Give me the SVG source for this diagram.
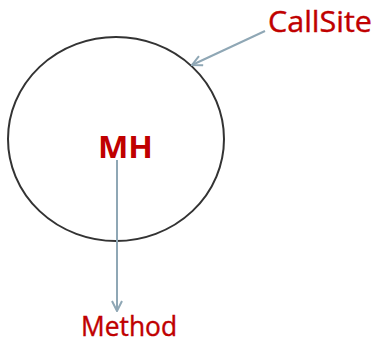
<svg xmlns="http://www.w3.org/2000/svg" width="374" height="343" viewBox="0 0 374 343">
  <style>
    .lbl { font-family: "Open Sans", "Liberation Sans", sans-serif; fill: #C00000; }
    .reg { stroke: #C00000; stroke-width: 0.4; }
    .conn { stroke: #8FA7B5; stroke-width: 2; fill: none; }
  </style>
  <defs>
    <marker id="open" viewBox="0 0 12 12" refX="11" refY="6" markerWidth="12" markerHeight="12" markerUnits="userSpaceOnUse" orient="auto">
      <path d="M1,1 L11,6 L1,11" fill="none" stroke="#8FA7B5" stroke-width="2"/>
    </marker>
  </defs>
  <rect width="374" height="343" fill="#ffffff"/>
  <g id="mh">
    <ellipse cx="116" cy="139" rx="108" ry="102" fill="none" stroke="#333333" stroke-width="2"/>
    <text class="lbl" x="98" y="158" font-size="31" font-weight="bold" textLength="55" lengthAdjust="spacingAndGlyphs">MH</text>
  </g>
  <g id="callsite">
    <text class="lbl reg" x="268" y="32" font-size="30" textLength="104" lengthAdjust="spacingAndGlyphs">CallSite</text>
  </g>
  <g id="method">
    <text class="lbl reg" x="81" y="336" font-size="27" textLength="96" lengthAdjust="spacingAndGlyphs">Method</text>
  </g>
  <g id="connectors">
    <line class="conn" x1="265" y1="31" x2="192" y2="65" marker-end="url(#open)"/>
    <line class="conn" x1="117" y1="160" x2="117" y2="311" marker-end="url(#open)"/>
  </g>
</svg>
